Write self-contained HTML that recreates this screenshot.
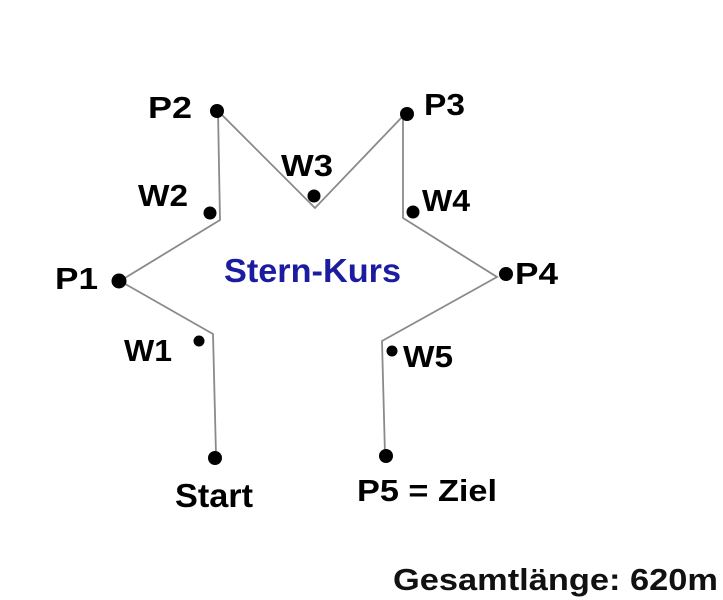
<!DOCTYPE html>
<html><head><meta charset="utf-8"><style>
html,body{margin:0;padding:0;background:#fff;}
svg{display:block;}
text{font-family:"Liberation Sans",Arial,sans-serif;font-weight:bold;}
</style></head><body>
<svg width="723" height="600" viewBox="0 0 723 600" xmlns="http://www.w3.org/2000/svg">
<g fill="none" stroke="#8a8a8a" stroke-width="1.8">
<polyline points="216,455 213,334 120,281 220,220 218,111 315,208 403,116 403,218 497,277 382,341 385,455"/>
</g>
<g fill="#000">
<circle cx="215" cy="458" r="7"/>
<circle cx="199" cy="341" r="5.5"/>
<circle cx="119" cy="281" r="7.5"/>
<circle cx="210" cy="213" r="6.5"/>
<circle cx="217" cy="111" r="7"/>
<circle cx="314" cy="196" r="6.5"/>
<circle cx="407" cy="114" r="7"/>
<circle cx="413" cy="212" r="6.5"/>
<circle cx="506" cy="274" r="7"/>
<circle cx="392" cy="351" r="5.5"/>
<circle cx="386" cy="456" r="7"/>
</g>
<g font-size="31" fill="#000">
<text x="148" y="118" textLength="44" lengthAdjust="spacingAndGlyphs">P2</text>
<text x="424" y="115" textLength="41" lengthAdjust="spacingAndGlyphs">P3</text>
<text x="281" y="176" textLength="52" lengthAdjust="spacingAndGlyphs">W3</text>
<text x="138" y="206" textLength="50" lengthAdjust="spacingAndGlyphs">W2</text>
<text x="422" y="211" textLength="48" lengthAdjust="spacingAndGlyphs">W4</text>
<text x="55" y="289" textLength="43" lengthAdjust="spacingAndGlyphs">P1</text>
<text x="515" y="284" textLength="43" lengthAdjust="spacingAndGlyphs">P4</text>
<text x="124" y="361" textLength="48" lengthAdjust="spacingAndGlyphs">W1</text>
<text x="403" y="367" textLength="50" lengthAdjust="spacingAndGlyphs">W5</text>
<text x="175" y="507" font-size="33" textLength="78" lengthAdjust="spacingAndGlyphs">Start</text>
<text x="357" y="501" textLength="140" lengthAdjust="spacingAndGlyphs">P5 = Ziel</text>
</g>
<text x="224" y="282" font-size="33" fill="#1c1ca0" textLength="177" lengthAdjust="spacingAndGlyphs">Stern-Kurs</text>
<text x="393" y="590" font-size="31" fill="#111" textLength="325" lengthAdjust="spacingAndGlyphs">Gesamtlänge: 620m</text>
</svg>
</body></html>
